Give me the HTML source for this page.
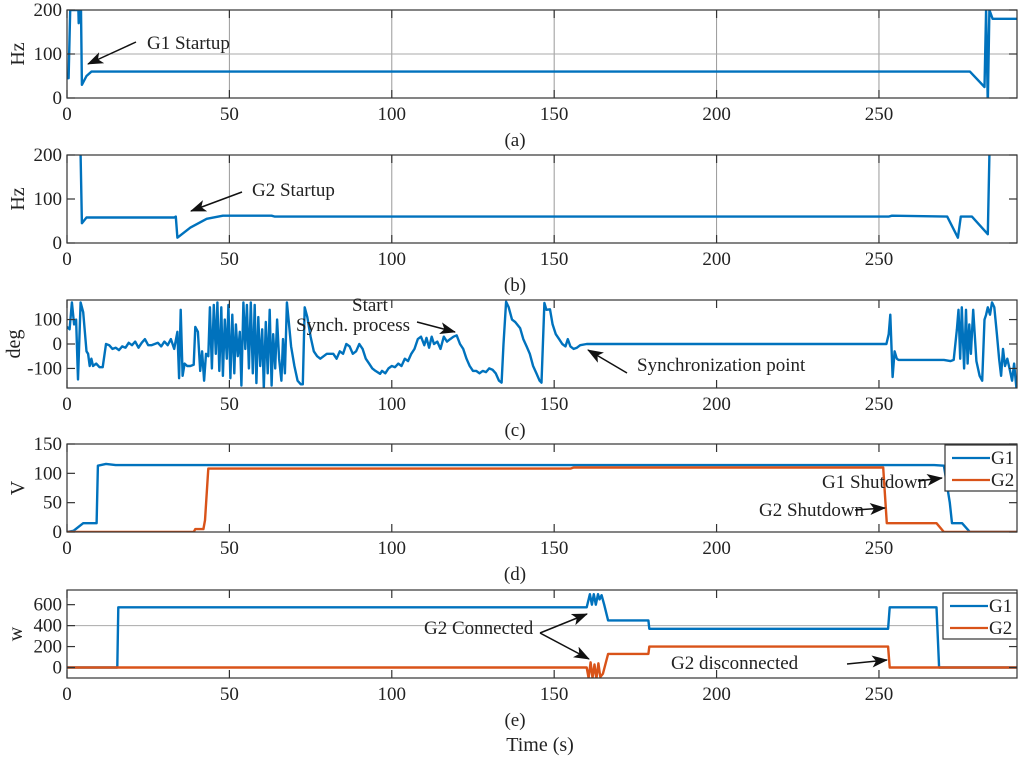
<!DOCTYPE html>
<html><head><meta charset="utf-8"><style>
body{margin:0;background:#fff;width:1024px;height:764px;overflow:hidden}
svg text{font-family:"Liberation Serif",serif;fill:#222}
</style></head><body>
<svg id="fig" width="1024" height="764" xmlns="http://www.w3.org/2000/svg"></svg>
<script>
const xTicks=[0,50,100,150,200,250];
const aTime=[0,0.5,1,2,3.5,3.6,3.8,4.3,4.6,6,7.5,278,282.5,283,283.5,284,285,292.5];
const aFreq=[45,45,200,200,200,170,200,200,30,50,60,60,25,200,-15,200,180,180];
const bTime=[4,4.2,4.6,6,33,33.5,34,38,43,48,63,64,253,254,271,274.3,275.2,278.6,283.5,284];
const bFreq=[200,200,45,58,58,60,12,35,55,62,62,60,60,62,60,12,60,60,20,200];
const cTime=[0,0.8,1.5,2.2,2.8,3.4,4.2,5,6,6.5,7,7.5,8,9,10,11,12,13,14,15,16,17,18,19,20,21,22,23,24,25,26,27,28,29,30,31,32,33,34,34.5,35,35.6,36.2,37,38,39,39.5,40.3,41,41.6,42.2,42.8,43.5,44,44.6,45.2,45.8,46.3,46.9,47.5,48,48.6,49.2,49.7,50.3,50.9,51.5,52,52.6,53.2,53.7,54.3,54.9,55.4,56,56.6,57.2,57.8,58.3,58.9,59.5,60.1,60.6,61.2,61.8,62.4,63,63.5,64.1,64.7,65.3,66,66.5,67.1,67.7,68.3,69,70,71,72,72.6,73.2,74,75,76,77,78,80,82,83,84,85,86,87,88,89,90,91,92,93,94,95,96.4,97,98,99,100,101,102,103,104,105,106,107,108,109,110,110.7,111.5,112.3,113,114,115,116,117,118,119,120,121,122,123,124,125,126,127,128,129,130,131,132,133,133.8,134.4,135.2,136,137,138,139.5,140.5,141.5,142.5,143.5,144.6,145.5,146.1,147,147.6,148.7,149.5,150.5,151.5,152.5,153.5,154.2,155,156,157,158,160,252.3,253,253.5,254.2,254.8,255.5,256,270,272,273,274,274.5,275,275.5,276.2,276.8,277.3,277.8,278.3,279,280,281,281.8,282.5,283,283.5,284.2,284.8,285.5,286.3,287,287.6,288.2,288.8,289.5,290.2,291,291.6,292.3];
const cPhase=[70,60,170,80,100,-145,170,130,-30,-40,-90,-60,-90,-80,-95,-95,0,-5,-20,-15,-25,-10,-15,5,-5,10,-15,5,20,-5,-5,0,5,-10,10,-5,20,-20,50,-140,140,-130,-80,-90,-90,-85,70,50,-110,-30,-150,-40,-50,150,-100,160,-40,170,-110,150,-130,100,-60,160,-140,120,-120,80,-50,50,-170,170,-20,160,-100,170,-120,160,-160,110,-90,60,-180,90,-120,140,-170,40,-100,100,-60,-150,20,-120,170,90,-10,-90,-150,-165,-165,150,110,30,-30,-50,-60,-40,-40,-60,-30,-40,0,-10,-40,-30,0,-20,-60,-80,-100,-110,-122,-110,-120,-100,-90,-95,-80,-90,-60,-70,-40,-20,20,30,-5,25,-15,30,0,10,-20,30,10,20,30,35,0,-20,-60,-90,-110,-110,-120,-110,-115,-100,-105,-120,-150,-158,0,173,150,100,90,65,20,-10,-40,-90,-122,-150,-158,168,140,142,80,40,20,0,-10,20,-10,-20,-15,-5,0,0,40,120,-135,-30,-60,-65,-65,-70,-65,60,140,-60,150,-100,140,-80,80,-40,140,-70,-130,-150,100,120,150,120,170,150,40,-60,-130,-20,-90,-60,-100,-150,-80,-180];
const dTime1=[0,2,5,9.1,9.5,12,15,267,270,271.8,272.5,275.6,278,292.5];
const dG1=[0,2,15,15,113,116,114,114,113,50,15,15,0,0];
const dTime2=[0,39,39.5,42,42.5,43.5,155,156,251.3,252.4,267.7,270,292.5];
const dG2=[0,0,5,5,20,108,108,110,110,15,15,0,0];
const eTime1=[0,15.5,15.8,160,161,161.6,162.2,162.8,163.5,164,164.6,165.4,166.6,179,179.3,252.8,253.3,267.7,268.5,292.5];
const eG1=[0,0,575,575,700,600,700,600,700,650,690,600,450,450,370,370,575,575,0,0];
const eTime2=[0,160,160.6,161.2,161.8,162.4,163,163.6,164.2,165,166.6,179,179.3,252.8,253.3,292.5];
const eG2=[0,0,-100,50,-100,30,-110,40,-90,-60,130,130,200,200,0,0];

const NS='http://www.w3.org/2000/svg';
const svg=document.getElementById('fig');
function mk(tag,attrs,parent){const e=document.createElementNS(NS,tag);for(const k in attrs)e.setAttribute(k,attrs[k]);(parent||svg).appendChild(e);return e;}
const X0=67,X1=1017,XMAX=292.5;
function sx(t){return X0+(X1-X0)*t/XMAX;}
let clipN=0;
function panel(cfg){
  const g=mk('g',{});
  
  
  const top=cfg.top,bot=cfg.top+88;
  const sy=v=>bot-(bot-top)*(v-cfg.ymin)/(cfg.ymax-cfg.ymin);
  if(cfg.gridX) xTicks.slice(1).forEach(t=>{const l=mk('line',{x1:sx(t),x2:sx(t),y1:top,y2:bot,stroke:'#999','stroke-width':1},g);});
  (cfg.gridY||[]).forEach(v=>{const l=mk('line',{x1:X0,x2:X1,y1:sy(v),y2:sy(v),stroke:'#aaa','stroke-width':1},g);});
  const id='clip'+(clipN++);
  const cp=mk('clipPath',{id:id},g);mk('rect',{x:X0,y:top,width:X1-X0,height:bot-top},cp);
  cfg.series.forEach(s=>{
    const pts=s.t.map((t,i)=>sx(t).toFixed(1)+','+sy(s.v[i]).toFixed(1)).join(' ');
    const p=mk('polyline',{points:pts,fill:'none',stroke:s.color,'stroke-width':2.4,'stroke-linejoin':'round','clip-path':'url(#'+id+')'},g);
    
    
  });
  const b=mk('rect',{x:X0,y:top,width:X1-X0,height:bot-top,fill:'none',stroke:'#333','stroke-width':1.2},g);
  
  xTicks.forEach(t=>{
    mk('line',{x1:sx(t),x2:sx(t),y1:bot,y2:bot-8,stroke:'#333','stroke-width':1.2},g);
    mk('line',{x1:sx(t),x2:sx(t),y1:top,y2:top+8,stroke:'#333','stroke-width':1.2},g);
    const tx=mk('text',{x:sx(t),y:bot+22,'text-anchor':'middle','font-size':19},g);tx.textContent=t;
    
  });
  cfg.yTicks.forEach(v=>{
    mk('line',{x1:X0,x2:X0+8,y1:sy(v),y2:sy(v),stroke:'#333','stroke-width':1.2},g);
    mk('line',{x1:X1,x2:X1-8,y1:sy(v),y2:sy(v),stroke:'#333','stroke-width':1.2},g);
    const tx=mk('text',{x:X0-5,y:sy(v)+6,'text-anchor':'end','font-size':19},g);tx.textContent=v;
    
  });
  const yl=mk('text',{x:0,y:0,'text-anchor':'middle','font-size':20,transform:'translate('+cfg.ylx+','+((top+bot)/2)+') rotate(-90)'},g);
  yl.textContent=cfg.ylabel;
  const pl=mk('text',{x:515,y:bot+48,'text-anchor':'middle','font-size':19},g);
  pl.textContent=cfg.tag;
  if(cfg.legend){
    const L=mk('g',{},g);
    const lx=cfg.legend[0],ly=cfg.legend[1];
    mk('rect',{x:lx,y:ly,width:X1-lx,height:46,fill:'#fff',stroke:'#333','stroke-width':1.2},L);
    [['G1','#0072BD'],['G2','#D95319']].forEach((e,i)=>{
      const y=ly+13+i*22;
      const ln=mk('line',{x1:lx+7,x2:lx+45,y1:y,y2:y,stroke:e[1],'stroke-width':2.2},L);
      
      const tt=mk('text',{x:lx+46,y:y+6,'font-size':19},L);tt.textContent=e[0];
      
    });
  }
}
const B='#0072BD',O='#D95319';
panel({name:'panel-a',top:10,ymin:0,ymax:200,yTicks:[0,100,200],ylabel:'Hz',ylx:24,tag:'(a)',gridX:true,gridY:[100],series:[{name:'g1-frequency-line',t:aTime,v:aFreq,color:B}]});
panel({name:'panel-b',top:155,ymin:0,ymax:200,yTicks:[0,100,200],ylabel:'Hz',ylx:24,tag:'(b)',gridX:true,series:[{name:'g2-frequency-line',t:bTime,v:bFreq,color:B}]});
panel({name:'panel-c',top:300,ymin:-180,ymax:180,yTicks:[-100,0,100],ylabel:'deg',ylx:20,tag:'(c)',series:[{name:'phase-line',t:cTime,v:cPhase,color:B}]});
panel({name:'panel-d',top:444,ymin:0,ymax:150,yTicks:[0,50,100,150],ylabel:'V',ylx:24,tag:'(d)',legend:[945,445],series:[{name:'g1-voltage-line',t:dTime1,v:dG1,color:B},{name:'g2-voltage-line',t:dTime2,v:dG2,color:O}]});
panel({name:'panel-e',top:590,ymin:-100,ymax:740,yTicks:[0,200,400,600],ylabel:'w',ylx:22,tag:'(e)',gridY:[400],legend:[943,593],series:[{name:'g1-power-line',t:eTime1,v:eG1,color:B},{name:'g2-power-line',t:eTime2,v:eG2,color:O}]});

const defs=mk('defs',{});
const m=mk('marker',{id:'ah',markerWidth:16,markerHeight:12,refX:15,refY:6,orient:'auto',markerUnits:'userSpaceOnUse'},defs);
mk('path',{d:'M0,0 L16,6 L0,12 L4,6 Z',fill:'#111'},m);
function note(name,txt,x,y,arrows){
  const g=mk('g',{});
  if(txt){const lines=Array.isArray(txt)?txt:[[txt,x,y]];lines.forEach(l=>{const t=mk('text',{x:l[1],y:l[2],'font-size':19},g);t.textContent=l[0];});}
  arrows.forEach(a=>mk('line',{x1:a[0],y1:a[1],x2:a[2],y2:a[3],stroke:'#111','stroke-width':1.5,'marker-end':'url(#ah)'},g));
}
note('g1-startup-annotation','G1 Startup',147,49,[[136,42,88,64]]);
note('g2-startup-annotation','G2 Startup',252,196,[[242,192,191,211]]);
note('sync-start-annotation',[['Start',352,311],['Synch. process',296,331]],0,0,[[417,322,455,332]]);
note('sync-point-annotation','Synchronization point',637,371,[[627,373,588,350]]);
note('g1-shutdown-annotation','G1 Shutdown',822,488,[[918,481,942,478]]);
note('g2-shutdown-annotation','G2 Shutdown',759,516,[[855,510,885,508]]);
note('g2-connected-annotation','G2 Connected',424,634,[[540,633,587,614],[540,633,589,659]]);
note('g2-disconnected-annotation','G2 disconnected',671,669,[[847,664,887,660]]);
const xt=mk('text',{x:540,y:751,'text-anchor':'middle','font-size':20});xt.textContent='Time (s)';


</script>
</body></html>
